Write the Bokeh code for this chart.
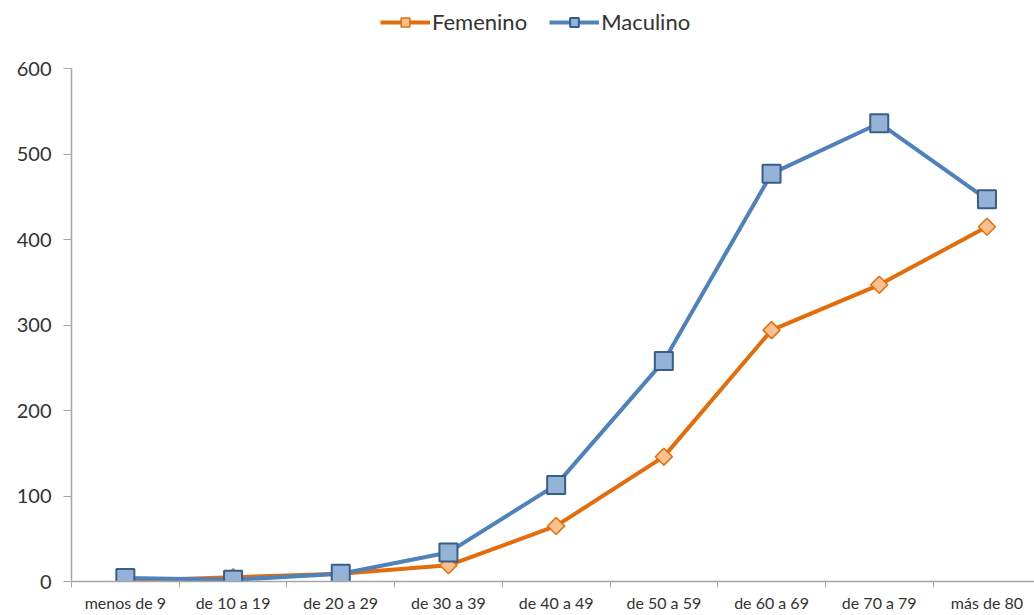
import math
from bokeh.plotting import figure
from bokeh.models import ColumnDataSource, FixedTicker, Legend, LegendItem, Range1d
from bokeh.embed import file_html
from bokeh.resources import INLINE

categories = ["menos de 9", "de 10 a 19", "de 20 a 29", "de 30 a 39", "de 40 a 49",
              "de 50 a 59", "de 60 a 69", "de 70 a 79", "más de 80"]
femenino = [1, 5, 9, 19, 65, 146, 294, 347, 415]
masculino = [4, 2, 9, 34, 113, 258, 477, 536, 447]
y_ticks = [0, 100, 200, 300, 400, 500, 600]

xs = [i + 0.5 for i in range(len(categories))]
src = ColumnDataSource(dict(x=xs, fem=femenino, mas=masculino))

FONT = "Lato"
TXT = "#333333"
AX = "#A6A6A6"

# frame: x 71..1034, y 0..581 ; value 600 sits at pixel 68
p = figure(width=1034, height=615, output_backend="svg", toolbar_location=None,
           x_range=Range1d(0, 963 / 107.7), y_range=Range1d(0, 600 * 581 / 513),
           min_border_left=71, min_border_right=0, min_border_top=0, min_border_bottom=34)
p.outline_line_color = None
p.xgrid.grid_line_color = None
p.ygrid.grid_line_color = None
p.background_fill_color = "white"

lf = p.line("x", "fem", source=src, line_color="#E46C0A", line_width=4)
sf = p.scatter("x", "fem", source=src, marker="square", size=12, angle=math.pi / 4,
               fill_color="#FAC090", line_color="#E46C0A", line_width=1.5)
lm = p.line("x", "mas", source=src, line_color="#4F81BD", line_width=4)
sm = p.scatter("x", "mas", source=src, marker="square", size=18,
               fill_color="#95B3D7", line_color="#385D8A", line_width=2)

# x axis
p.xaxis.ticker = FixedTicker(ticks=xs, minor_ticks=list(range(len(categories) + 1)))
p.xaxis.major_label_overrides = {x: c for x, c in zip(xs, categories)}
p.xaxis.major_tick_out = 0
p.xaxis.major_tick_in = 0
p.xaxis.minor_tick_out = 6
p.xaxis.minor_tick_in = 0
p.xaxis.minor_tick_line_color = AX
p.xaxis.axis_line_color = AX
p.xaxis.axis_line_width = 1.5
p.xaxis.major_label_text_font = FONT
p.xaxis.major_label_text_font_size = "16px"
p.xaxis.major_label_text_color = TXT
p.xaxis.major_label_standoff = 5

# y axis
p.yaxis.ticker = FixedTicker(ticks=y_ticks)
p.yaxis.bounds = (y_ticks[0], y_ticks[-1])
p.yaxis.major_tick_out = 8
p.yaxis.major_tick_in = 0
p.yaxis.minor_tick_line_color = None
p.yaxis.major_tick_line_color = AX
p.yaxis.axis_line_color = AX
p.yaxis.axis_line_width = 1.5
p.yaxis.major_label_text_font = FONT
p.yaxis.major_label_text_font_size = "20px"
p.yaxis.major_label_text_color = TXT
p.yaxis.major_label_standoff = 12

legend = Legend(items=[LegendItem(label="Femenino", renderers=[lf, sf]),
                       LegendItem(label="Maculino", renderers=[lm, sm])],
                location=(309, 546), orientation="horizontal",
                padding=0, margin=0, spacing=22, glyph_width=50, glyph_height=22,
                label_text_font=FONT, label_text_font_size="22px",
                label_text_color=TXT, label_standoff=2,
                border_line_color=None, background_fill_alpha=0)
p.add_layout(legend, "center")

open("out.html", "w").write(file_html(p, INLINE))
